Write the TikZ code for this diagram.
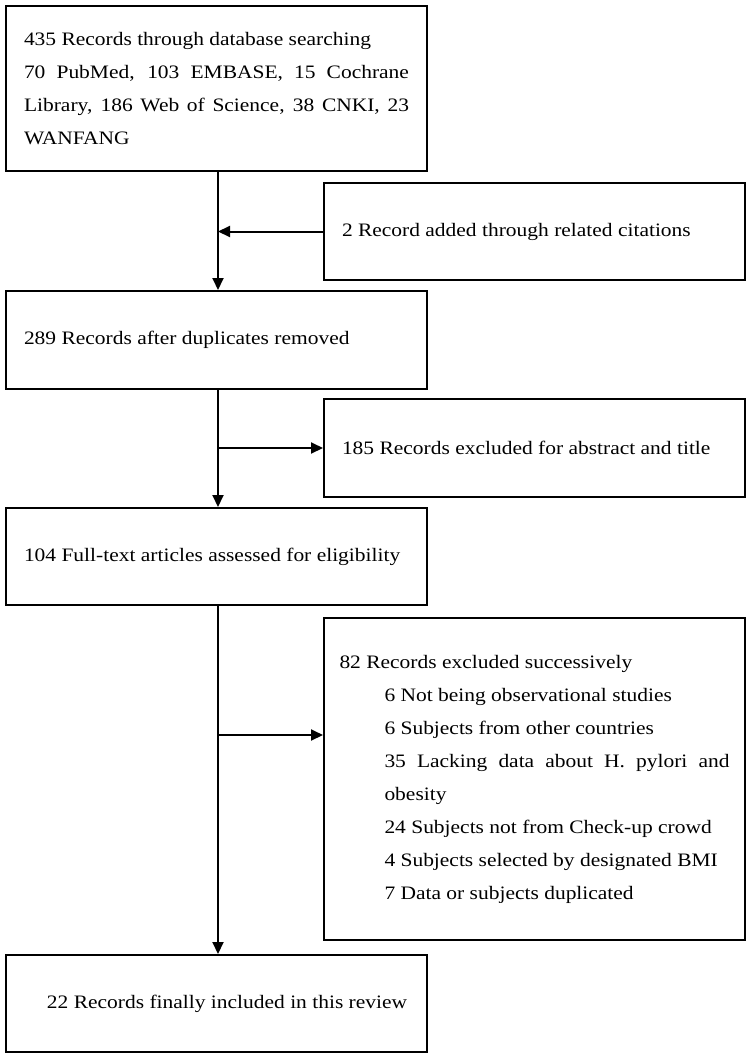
\documentclass[tikz,border=0pt]{standalone}
\usepackage{fontspec}
\setmainfont{Liberation Serif}[FakeStretch=1.13]
\usetikzlibrary{arrows.meta}
\tikzset{box/.style={draw,line width=2pt,anchor=north west,inner xsep=18pt,inner ysep=0pt,
  text width=385pt,align=justify,font=\fontsize{19}{33}\selectfont},
  arr/.style={line width=2pt,-{Triangle[length=12pt,width=11pt]}}}
\begin{document}
\begin{tikzpicture}[x=1pt,y=-1pt]
\useasboundingbox (0,0) rectangle (750,1057);
\node[box,minimum height=165pt] (search) at (5,5) {435 Records through database searching\par
  70 PubMed, 103 EMBASE, 15 Cochrane\linebreak Library, 186 Web of Science, 38 CNKI, 23\linebreak WANFANG\par};
\node[box,minimum height=97pt] (added) at (323,182) {2 Record added through related citations\par};
\node[box,minimum height=98pt] (dedup) at (5,290) {289 Records after duplicates removed\par};
\node[box,minimum height=98pt] (abstr) at (323,398) {185 Records excluded for abstract and title\par};
\node[box,minimum height=97pt] (fulltext) at (5,507) {104 Full-text articles assessed for eligibility\par};
\node[box,minimum height=322pt,text width=390pt,inner xsep=15.5pt] (excl) at (323,617) {82 Records excluded successively\par
  \leftskip=45pt 6 Not being observational studies\par 6 Subjects from other countries\par
  35 Lacking data about H. pylori and\linebreak obesity\par 24 Subjects not from Check-up crowd\par
  4 Subjects selected by designated BMI\par 7 Data or subjects duplicated\par};
\node[box,minimum height=97pt,text width=395pt,inner xsep=13pt] (incl) at (5,954) {\hspace*{28pt}22 Records finally included in this review\par};
\coordinate (trunk) at (218,0);
\draw[arr] (search.south -| trunk) -- (dedup.north -| trunk);
\draw[arr] (dedup.south -| trunk) -- (fulltext.north -| trunk);
\draw[arr] (fulltext.south -| trunk) -- (incl.north -| trunk);
\draw[arr] (added.west) -- (added.west -| trunk);
\draw[arr] (abstr.west -| trunk) -- (abstr.west);
\draw[arr] (trunk |- 0,735) -- (excl.west |- 0,735);
\end{tikzpicture}
\end{document}
